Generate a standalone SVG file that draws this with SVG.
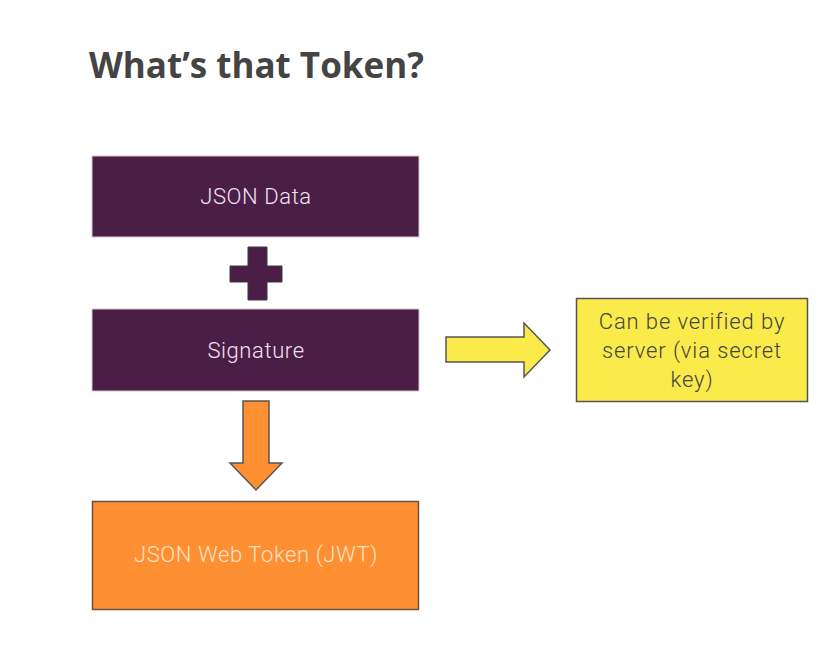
<svg xmlns="http://www.w3.org/2000/svg" width="830" height="654" viewBox="0 0 830 654">
<style>
.title{font-family:"Open Sans","Noto Sans",sans-serif;font-weight:700;font-size:35px;fill:#444}
.lbl{font-family:Roboto,"Open Sans",sans-serif;font-weight:300;font-size:22px;letter-spacing:0.6px;text-anchor:middle}
.ylw{letter-spacing:0.9px}
.purple{fill:#4A1E47;stroke:#d8c8d8;stroke-width:1}
.light{fill:#F3E3F0}
</style>
<rect width="830" height="654" fill="#fff"/>
<text class="title" x="89" y="78">What’s that Token?</text>
<g id="json-data">
<rect class="purple" x="92" y="156" width="327" height="81"/>
<text class="lbl light" x="256" y="204">JSON Data</text>
</g>
<g id="plus">
<path d="M248 247 H267 V266 H282 V282 H267 V300 H248 V282 H230 V266 H248 Z" fill="#4A1E47" stroke="#3a3a3a" stroke-width="1"/>
</g>
<g id="signature">
<rect class="purple" x="92" y="309" width="327" height="82"/>
<text class="lbl light" x="256" y="358">Signature</text>
</g>
<g id="verified">
<rect x="576.5" y="298.5" width="231" height="103" fill="#FAEB4A" stroke="#555" stroke-width="1.5"/>
<text class="lbl ylw" fill="#444" x="692" y="329">Can be verified by</text>
<text class="lbl ylw" fill="#444" x="692" y="358">server (via secret</text>
<text class="lbl ylw" fill="#444" x="692" y="387">key)</text>
</g>
<g id="jwt">
<rect x="92.5" y="501.5" width="326" height="108" fill="#FF8F33" stroke="#6b5040" stroke-width="1.5"/>
<text class="lbl" fill="#FFE3C8" x="256" y="562">JSON Web Token (JWT)</text>
</g>
<g id="connectors">
<path d="M446 337 H524 V323 L550 350 L524 377 V362 H446 Z" fill="#FAEB4A" stroke="#555" stroke-width="1.5"/>
<path d="M243 401 H269 V463 H282 L256 490 L230 463 H243 Z" fill="#FF8F33" stroke="#555" stroke-width="1.5"/>
</g>
</svg>
